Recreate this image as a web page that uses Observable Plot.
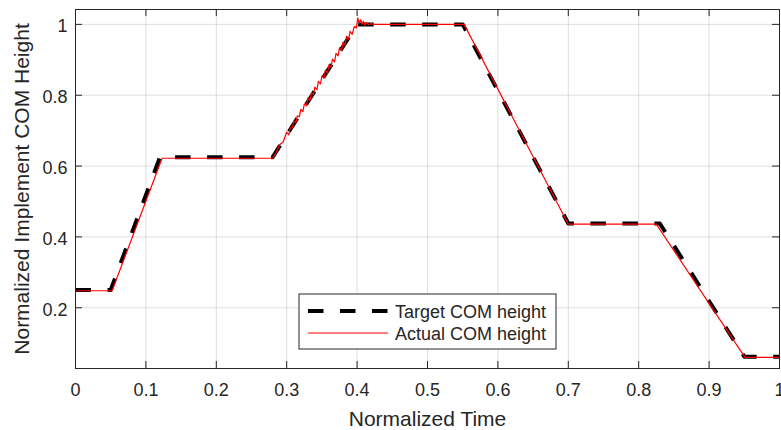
<!DOCTYPE html>
<html>
<head>
<meta charset="utf-8">
<script src="https://cdn.jsdelivr.net/npm/d3@7"></script>
<script src="https://cdn.jsdelivr.net/npm/@observablehq/plot@0.6"></script>
<style>
  html, body { margin: 0; padding: 0; background: #fff; }
  #chart { position: relative; width: 781px; height: 430px; }
</style>
</head>
<body>
<div id="chart"></div>
<script>
// ---- data ----
const targetTime   = [0, 0.05, 0.12, 0.28, 0.40, 0.55, 0.70, 0.83, 0.95, 1.0];
const targetHeight = [0.25, 0.25, 0.625, 0.625, 1.0, 1.0, 0.438, 0.438, 0.062, 0.062];

const actualTime = [
  0, 0.052, 0.123, 0.28,
  0.285, 0.29, 0.295, 0.30, 0.303, 0.305, 0.308, 0.31, 0.313, 0.315, 0.318,
  0.32, 0.323, 0.325, 0.328, 0.33, 0.333, 0.335, 0.338, 0.34, 0.343, 0.345,
  0.348, 0.35, 0.353, 0.355, 0.358, 0.36, 0.363, 0.365, 0.368, 0.37, 0.373,
  0.375, 0.378, 0.38, 0.383, 0.385, 0.388, 0.39, 0.393, 0.396, 0.399,
  0.401, 0.403, 0.405, 0.407, 0.409, 0.411, 0.413, 0.416, 0.42, 0.425,
  0.552, 0.7, 0.825, 0.951, 1.0
];
const actualHeight = [
  0.248, 0.248, 0.622, 0.622,
  0.638, 0.660, 0.668, 0.696, 0.688, 0.708, 0.708, 0.727, 0.722, 0.742, 0.739,
  0.760, 0.754, 0.775, 0.770, 0.792, 0.785, 0.806, 0.802, 0.823, 0.816, 0.839,
  0.832, 0.854, 0.848, 0.871, 0.862, 0.886, 0.879, 0.902, 0.894, 0.918, 0.911,
  0.934, 0.926, 0.950, 0.942, 0.966, 0.958, 0.980, 0.972, 0.994, 0.990,
  1.018, 1.003, 1.013, 1.000, 1.009, 0.998, 1.005, 0.999, 1.002, 1.000,
  1.000, 0.436, 0.436, 0.060, 0.060
];

const xTicks = [0, 0.1, 0.2, 0.3, 0.4, 0.5, 0.6, 0.7, 0.8, 0.9, 1];
const yTicks = [0.2, 0.4, 0.6, 0.8, 1];
const xLabel = "Normalized Time";
const yLabel = "Normalized Implement COM Height";
const legendLabels = ["Target COM height", "Actual COM height"];

const target = targetTime.map((t, i) => ({t, h: targetHeight[i]}));
const actual = actualTime.map((t, i) => ({t, h: actualHeight[i]}));

// ---- layout ----
const W = 781, H = 430, mL = 75, mR = 2, mT = 9, mB = 62;
const fw = W - mL - mR, fh = H - mT - mB, tick = 7;
const axisColor = "#262626";
const font = "'Liberation Sans', Arial, Helvetica, sans-serif";

const svg = Plot.plot({
  width: W, height: H,
  marginLeft: mL, marginRight: mR, marginTop: mT, marginBottom: mB,
  style: {fontFamily: font, background: "#fff", color: axisColor, overflow: "hidden"},
  x: {domain: [0, 1]},
  y: {domain: [0.0285, 1.042]},
  marks: [
    Plot.gridX(xTicks, {stroke: "#000", strokeOpacity: 0.13}),
    Plot.gridY(yTicks, {stroke: "#000", strokeOpacity: 0.13}),
    Plot.line(target, {x: "t", y: "h", stroke: "#000", strokeWidth: 4, strokeDasharray: "15.5,16.5", strokeLinecap: "butt"}),
    Plot.line(actual, {x: "t", y: "h", stroke: "#ff0000", strokeWidth: 1.2}),
    Plot.frame({stroke: axisColor, strokeWidth: 1}),
    Plot.tickX(xTicks, {x: d => d, insetTop: fh - tick, stroke: axisColor}),
    Plot.tickX(xTicks, {x: d => d, insetBottom: fh - tick, stroke: axisColor}),
    Plot.tickY(yTicks, {y: d => d, insetLeft: fw - tick, stroke: axisColor}),
    Plot.tickY(yTicks, {y: d => d, insetRight: fw - tick, stroke: axisColor}),
    Plot.axisX(xTicks, {tickSize: 0, tickPadding: 15, fontSize: 18, label: null, tickFormat: d => String(d), fill: axisColor}),
    Plot.axisY(yTicks, {tickSize: 0, tickPadding: 8, fontSize: 18, label: null, tickFormat: d => String(d), fill: axisColor, dy: 2}),
    Plot.text([xLabel], {text: d => d, frameAnchor: "bottom", dy: 57, lineAnchor: "bottom", textAnchor: "middle", fontSize: 21, fill: axisColor}),
    Plot.text([yLabel], {text: d => d, frameAnchor: "left", rotate: -90, dx: -47, lineAnchor: "bottom", textAnchor: "middle", fontSize: 21, fill: axisColor})
  ]
});

// ---- legend (inside the axes, bottom centre) ----
const g = d3.select(svg).append("g").attr("font-family", font).attr("text-anchor", "start");
const lx = 299, ly = 294, lw = 257, lh = 55;
g.append("rect").attr("x", lx).attr("y", ly).attr("width", lw).attr("height", lh)
  .attr("fill", "#fff").attr("stroke", axisColor).attr("stroke-width", 1);
const rows = [
  {label: legendLabels[0], stroke: "#000", width: 4, dash: "15.5,16.5", y: 311},
  {label: legendLabels[1], stroke: "#ff0000", width: 1.2, dash: null, y: 333}
];
rows.forEach(r => {
  g.append("line").attr("x1", 308).attr("x2", 388).attr("y1", r.y).attr("y2", r.y)
    .attr("stroke", r.stroke).attr("stroke-width", r.width)
    .attr("stroke-dasharray", r.dash);
  g.append("text").attr("x", 395).attr("y", r.y + 6.5).attr("font-size", 18)
    .attr("text-anchor", "start").attr("fill", axisColor).text(r.label);
});

document.getElementById("chart").appendChild(svg);
</script>
</body>
</html>
